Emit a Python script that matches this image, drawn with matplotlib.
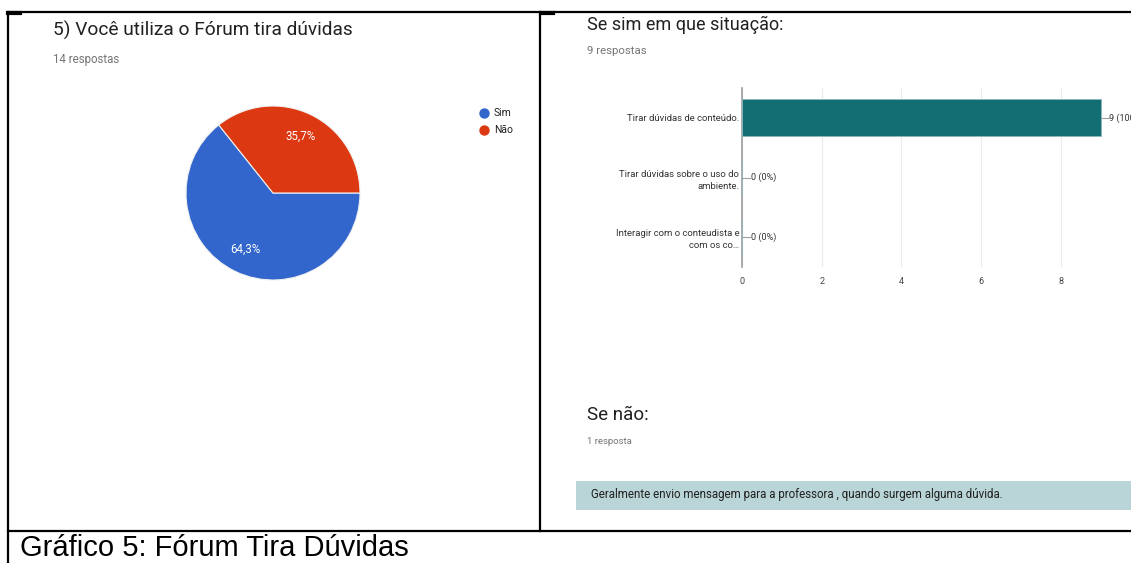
import matplotlib
matplotlib.use("Agg")
import matplotlib.pyplot as plt
from matplotlib.patches import Rectangle

# ---------------- data ----------------
pie_labels = ["Sim", "Não"]
pie_values = [9, 5]           # 64,3% / 35,7% of 14 respostas
pie_colors = ["#3366CC", "#DC3912"]

bar_categories = [
    "Tirar dúvidas de conteúdo.",
    "Tirar dúvidas sobre o uso do\nambiente.",
    "Interagir com o conteudista e\ncom os co…",
]
bar_values = [9, 0, 0]
bar_total = 9
bar_ticks = [0, 2, 4, 6, 8]

text_answer = "Geralmente envio mensagem para a professora , quando surgem alguma dúvida."

W, H = 1131, 563
fig = plt.figure(figsize=(W / 100, H / 100), dpi=100)
plt.rcParams['font.family'] = ['Roboto', 'DejaVu Sans']

def px_axes(x0, y0, x1, y1):
    return fig.add_axes([x0 / W, 1 - y1 / H, (x1 - x0) / W, (y1 - y0) / H])

# background / frame axes in pixel coordinates
bg = fig.add_axes([0, 0, 1, 1])
bg.set_xlim(0, W)
bg.set_ylim(H, 0)
bg.axis("off")

lw = 1.6
bg.plot([8, W], [12, 12], color="black", lw=lw)
bg.plot([8, 8], [12, H], color="black", lw=lw)
bg.plot([540, 540], [12, 531], color="black", lw=lw)
bg.plot([8, W], [531, 531], color="black", lw=lw)
bg.plot([8, 20], [12.5, 12.5], color="black", lw=3)
bg.plot([541, 553], [12.5, 12.5], color="black", lw=3)

# left panel texts
bg.text(53, 30, "5) Você utiliza o Fórum tira dúvidas", fontsize=13.8, color="#212121",
        va="center", ha="left")
bg.text(53, 59, "14 respostas", fontsize=8.3, color="#757575", va="center", ha="left")

# legend
for i, (lab, col) in enumerate(zip(pie_labels, pie_colors)):
    yy = 113 + 17 * i
    bg.scatter([484], [yy], s=42, color=col, zorder=3)
    bg.text(494, yy, lab, fontsize=7.5, color="#222222", va="center", ha="left")

# pie
pax = px_axes(186, 106, 360, 280)
wedges, texts, autotexts = pax.pie(
    pie_values, colors=pie_colors, startangle=128.57, counterclock=True,
    autopct=lambda p: f"{p:.1f}%".replace(".", ","), pctdistance=0.72,
    wedgeprops=dict(edgecolor="#F0F0F0", linewidth=0.8),
    textprops=dict(color="white", fontsize=8.3))
pax.set_xlim(-1, 1)
pax.set_ylim(-1, 1)
pax.set_aspect("auto")
pax.axis("off")

# right panel texts
bg.text(587, 25, "Se sim em que situação:", fontsize=13, color="#212121", va="center", ha="left")
bg.text(587, 51, "9 respostas", fontsize=8.2, color="#757575", va="center", ha="left")

# bar chart
bax = px_axes(742, 88, W, 267)
ypos = list(range(len(bar_categories)))
scale_max = (W - 742) / 39.85
bax.barh(ypos, bar_values, height=0.62, color="#136E74", edgecolor="#8DB8BB",
         linewidth=0.6, zorder=3)
bax.set_xlim(0, scale_max)
bax.set_ylim(len(bar_categories) - 0.5, -0.5)
bax.set_xticks(bar_ticks)
bax.set_xticklabels([str(t) for t in bar_ticks], fontsize=6.5, color="#444444")
bax.set_yticks(ypos)
bax.set_yticklabels(bar_categories, fontsize=6.8, color="#333333", linespacing=1.45)
bax.tick_params(axis="both", length=0, pad=7)
bax.tick_params(axis="y", pad=2)
bax.grid(axis="x", color="#EBEBEB", lw=0.8, zorder=0)
for s in ["top", "right", "bottom"]:
    bax.spines[s].set_visible(False)
bax.spines["left"].set_color("#9E9E9E")
bax.spines["left"].set_linewidth(1.2)
bax.axhline(len(bar_categories) - 0.5, color="#EBEBEB", lw=0.8)
for y, v in zip(ypos, bar_values):
    pct = round(100 * v / bar_total)
    bax.plot([v, v + 0.2], [y, y], color="#9E9E9E", lw=0.8, clip_on=False, zorder=4)
    bax.text(v + 0.22, y, f"{v} ({pct}%)", fontsize=6.5, color="#333333",
             va="center", ha="left", clip_on=True)

# "Se não" block
bg.text(587, 415, "Se não:", fontsize=13.5, color="#212121", va="center", ha="left")
bg.text(587, 441, "1 resposta", fontsize=6.8, color="#757575", va="center", ha="left")
bg.add_patch(Rectangle((576, 481), W - 576, 29, facecolor="#B9D5D7", edgecolor="none"))
bg.text(591, 494.5, text_answer, fontsize=8.3, color="#202020", va="center", ha="left")

# caption
bg.text(20, 548, "Gráfico 5: Fórum Tira Dúvidas", fontsize=21, color="black",
        va="center", ha="left", family=["Liberation Sans", "DejaVu Sans"])

fig.savefig("out.png", dpi=100)
